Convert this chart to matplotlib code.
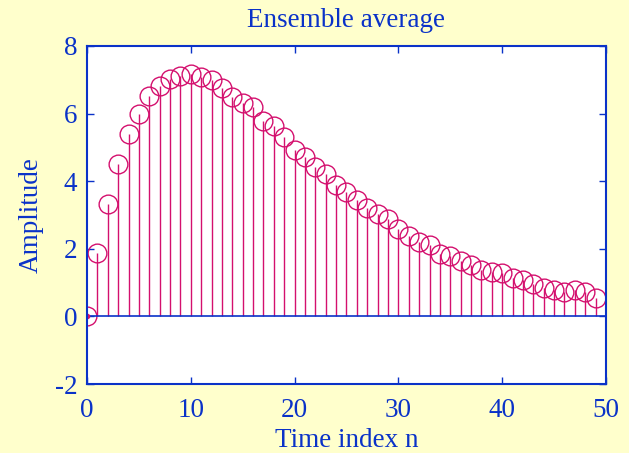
import numpy as np
import matplotlib
matplotlib.use('Agg')
import matplotlib.pyplot as plt

# ensemble average values
n = np.arange(50)
amplitude = [0.0, 1.88, 3.33, 4.51, 5.40, 5.99, 6.52, 6.82, 7.02, 7.11,
             7.17, 7.08, 6.99, 6.75, 6.49, 6.31, 6.19, 5.78, 5.63, 5.31,
             4.92, 4.72, 4.42, 4.21, 3.89, 3.68, 3.44, 3.21, 3.03, 2.88,
             2.59, 2.38, 2.20, 2.11, 1.85, 1.79, 1.64, 1.52, 1.37, 1.31,
             1.28, 1.14, 1.08, 0.96, 0.84, 0.78, 0.72, 0.78, 0.72, 0.54]
x_ticks = [0, 10, 20, 30, 40, 50]
y_ticks = [-2, 0, 2, 4, 6, 8]

BLUE = '#0a32c8'
STEM = '#d4106e'
BG = '#ffffcc'

plt.rcParams['font.family'] = ['Liberation Serif', 'DejaVu Serif']
plt.rcParams['axes.unicode_minus'] = False

fig = plt.figure(figsize=(6.29, 4.53), dpi=100, facecolor=BG)
ax = fig.add_axes([0.1383, 0.1523, 0.8251, 0.7462])
ax.set_facecolor('white')

markerline, stemlines, baseline = ax.stem(n, amplitude)
plt.setp(stemlines, color=STEM, linewidth=1.0)
plt.setp(markerline, marker='o', markersize=13.5, markerfacecolor='none',
         markeredgecolor=STEM, markeredgewidth=1.0, linestyle='none')
plt.setp(baseline, color=BLUE, linewidth=1.2)
baseline.set_xdata([0, 50])
# small dot drawn by the zero-height stem at n = 0
ax.plot(n[:1], amplitude[:1], 'o', color=STEM, markersize=3)

ax.set_xlim(0, 50)
ax.set_ylim(-2, 8)
ax.set_xticks(x_ticks)
ax.set_yticks(y_ticks)

for spine in ax.spines.values():
    spine.set_color(BLUE)
    spine.set_linewidth(1.5)
ax.tick_params(direction='in', top=True, right=True, colors=BLUE,
               labelsize=19.5, length=5, width=1.0)
ax.tick_params(axis='x', pad=10)
ax.tick_params(axis='y', pad=7)

ax.set_title('Ensemble average', color=BLUE, fontsize=19.5, pad=14)
ax.set_xlabel('Time index n', color=BLUE, fontsize=19.5, labelpad=4)
ax.set_ylabel('Amplitude', color=BLUE, fontsize=19.5, labelpad=8)

fig.savefig('out.png', dpi=100, facecolor=BG)
